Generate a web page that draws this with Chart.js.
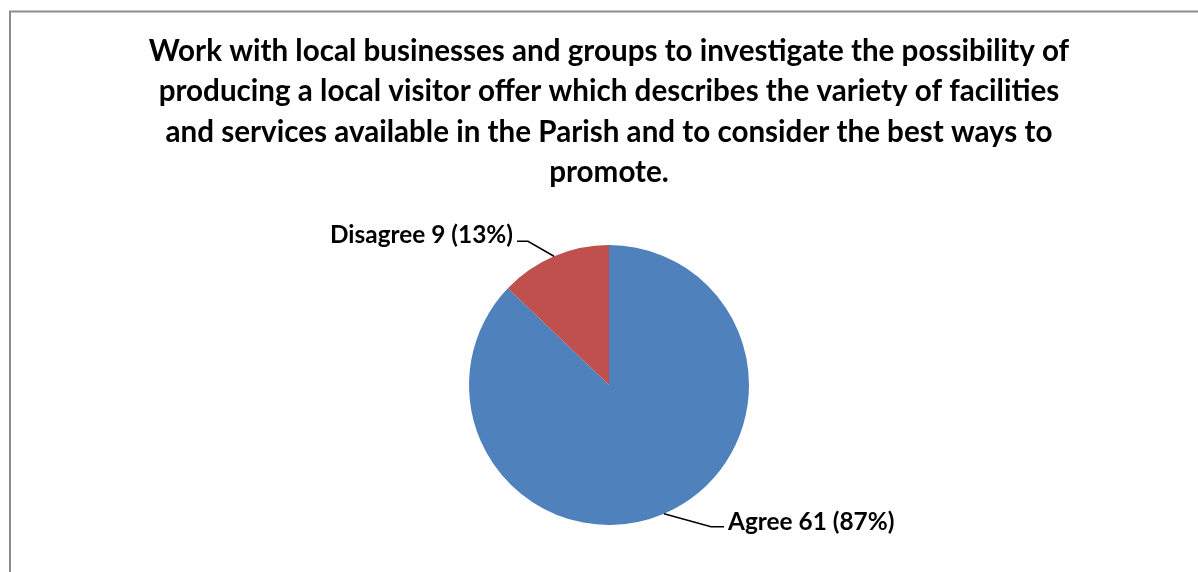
<!DOCTYPE html>
<html>
<head>
<meta charset="utf-8">
<script src="https://cdn.jsdelivr.net/npm/chart.js@4/dist/chart.umd.min.js"></script>
<style>
  html, body { margin: 0; padding: 0; background: #fff; }
  #wrap { width: 1198px; height: 572px; }
</style>
</head>
<body>
<div id="wrap"><canvas id="dataPie"></canvas></div>
<script>
// answers
let labelJawab = ['Agree', 'Disagree'];
let nilaiJawab = [61, 9];
let persenJawab = ['87%', '13%'];
let judul = [
  'Work with local businesses and groups to investigate the possibility of',
  'producing a local visitor offer which describes the variety of facilities',
  'and services available in the Parish and to consider the best ways to',
  'promote.'
];

// leader line offsets from the slice edge (elbow, then short horizontal)
let labelOffset = [
  { dx: 47, dy: 13, run: 13 },
  { dx: -26, dy: -15, run: -11 }
];

const bingkai = {
  id: 'bingkai',
  beforeDraw(chart) {
    const c = chart.ctx;
    c.save();
    c.strokeStyle = '#8c8c8c';
    c.lineWidth = 2;
    c.beginPath();
    c.moveTo(10, 572);
    c.lineTo(10, 11.5);
    c.lineTo(1198, 11.5);
    c.stroke();
    c.restore();
  }
};

const labelGaris = {
  id: 'labelGaris',
  afterDatasetsDraw(chart) {
    const c = chart.ctx;
    const meta = chart.getDatasetMeta(0);
    c.save();
    c.font = 'bold 24.4px Lato, "Liberation Sans", sans-serif';
    c.fillStyle = '#000';
    c.strokeStyle = '#000';
    c.lineWidth = 1.5;
    meta.data.forEach((arc, i) => {
      const mid = (arc.startAngle + arc.endAngle) / 2;
      const x0 = arc.x + Math.cos(mid) * arc.outerRadius;
      const y0 = arc.y + Math.sin(mid) * arc.outerRadius;
      const o = labelOffset[i];
      const x1 = x0 + o.dx, y1 = y0 + o.dy;
      const x2 = x1 + o.run;
      c.beginPath();
      c.moveTo(x0, y0);
      c.lineTo(x1, y1);
      c.lineTo(x2, y1);
      c.stroke();
      const teks = labelJawab[i] + ' ' + nilaiJawab[i] + ' (' + persenJawab[i] + ')';
      c.textBaseline = 'middle';
      if (o.run > 0) {
        c.textAlign = 'left';
        c.fillText(teks, x2 + 4, y1 - 5);
      } else {
        c.textAlign = 'right';
        c.fillText(teks, x2 - 4, y1 - 6);
      }
    });
    c.restore();
  }
};

let ctx = document.getElementById('dataPie');
let myChart = new Chart(ctx, {
  type: 'pie',
  data: {
    labels: labelJawab,
    datasets: [{
      data: nilaiJawab,
      backgroundColor: ['#4F81BD', '#C0504D'],
      borderWidth: 0
    }]
  },
  options: {
    responsive: true,
    maintainAspectRatio: false,
    animation: false,
    layout: { padding: { left: 20, right: 0, top: 0, bottom: 47 } },
    plugins: {
      legend: { display: false },
      tooltip: { enabled: false },
      title: {
        display: true,
        text: judul,
        color: '#000',
        font: { family: 'Lato, "Liberation Sans", sans-serif', size: 29.6, weight: 'bold', lineHeight: 1.37 },
        padding: { top: 31, bottom: 51.8 }
      }
    }
  },
  plugins: [bingkai, labelGaris]
});
</script>
</body>
</html>
